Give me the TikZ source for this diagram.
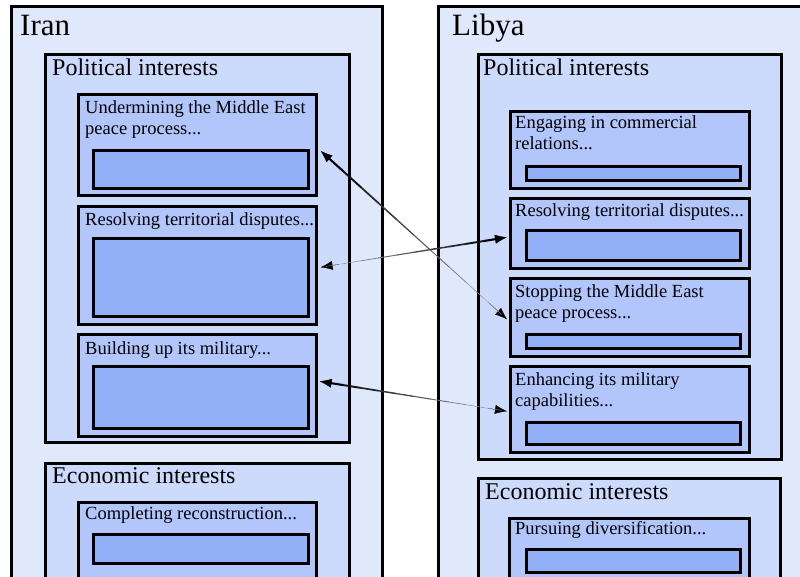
\documentclass[tikz,border=0pt]{standalone}
\usepackage{fontspec}
\setmainfont{Liberation Serif}
\usetikzlibrary{arrows.meta,calc}

\definecolor{paleblue}{RGB}{224,232,252}
\definecolor{lightblue}{RGB}{204,218,252}
\definecolor{midblue}{RGB}{178,198,252}
\definecolor{barblue}{RGB}{146,176,248}

\tikzset{
  box/.style={draw, line width=2.6pt, rectangle, inner sep=0pt, anchor=north west},
  countrybox/.style={box, fill=paleblue},
  groupbox/.style={box, fill=lightblue},
  itembox/.style={box, fill=midblue},
  barbox/.style={box, fill=barblue},
  countrytext/.style={anchor=base west, inner sep=0pt, font=\fontsize{31}{36}\selectfont},
  grouptext/.style={anchor=base west, inner sep=0pt, font=\fontsize{24}{28}\selectfont},
  itemtext/.style={anchor=base west, inner sep=0pt, align=left, font=\fontsize{18.5}{21}\selectfont},
  tip/.style={-{Latex[length=12pt,width=9pt]}, line width=0.3pt}
}

\begin{document}
\begin{tikzpicture}[x=1pt, y=-1pt]
        \clip (0,0) rectangle (800,577);
        \fill[white] (0,0) rectangle (800,577);

        % Iran
        \node[countrybox, minimum width=371pt, minimum height=600pt] (iran) at (10,5) {};
        \node[countrytext] (irant) at (20,36) {Iran};
        \node[groupbox, minimum width=304pt, minimum height=388pt] (ipol) at (44,53) {};
        \node[grouptext] (ipolt) at (52,76) {Political interests};
        \node[itembox, minimum width=238pt, minimum height=101pt] (iu) at (77,93) {};
        \node[barbox, minimum width=215pt, minimum height=38pt] (iub) at (92,149) {};
        \node[itemtext] (iut) at (85,135) {Undermining the Middle East\\peace process...};
        \node[itembox, minimum width=238pt, minimum height=118pt] (ir) at (77,205) {};
        \node[barbox, minimum width=215pt, minimum height=78pt] (irb) at (92,237) {};
        \node[itemtext] (irt) at (85,226) {Resolving territorial disputes...};
        \node[itembox, minimum width=238pt, minimum height=102pt] (ib) at (77,333) {};
        \node[barbox, minimum width=215pt, minimum height=62pt] (ibb) at (92,365) {};
        \node[itemtext] (ibt) at (85,354) {Building up its military...};
        \node[groupbox, minimum width=304pt, minimum height=150pt] (ieco) at (44,462) {};
        \node[grouptext] (iecot) at (52,483) {Economic interests};
        \node[itembox, minimum width=238pt, minimum height=100pt] (ic) at (77,501) {};
        \node[barbox, minimum width=215pt, minimum height=29pt] (icb) at (92,533) {};
        \node[itemtext] (ict) at (85,519) {Completing reconstruction...};

        % Libya
        \node[countrybox, minimum width=400pt, minimum height=600pt] (libya) at (437,5) {};
        \node[countrytext] (libyat) at (452,36) {Libya};
        \node[groupbox, minimum width=303pt, minimum height=405pt] (lpol) at (477,53) {};
        \node[grouptext] (lpolt) at (483,76) {Political interests};
        \node[itembox, minimum width=239pt, minimum height=77pt] (lc) at (509,110) {};
        \node[barbox, minimum width=214pt, minimum height=14pt] (lcb) at (525,165) {};
        \node[itemtext] (lct) at (515,150) {Engaging in commercial\\relations...};
        \node[itembox, minimum width=239pt, minimum height=70pt] (lr) at (509,197) {};
        \node[barbox, minimum width=214pt, minimum height=30pt] (lrb) at (525,229) {};
        \node[itemtext] (lrt) at (515,217) {Resolving territorial disputes...};
        \node[itembox, minimum width=239pt, minimum height=78pt] (ls) at (509,277) {};
        \node[barbox, minimum width=214pt, minimum height=14pt] (lsb) at (525,333) {};
        \node[itemtext] (lst) at (515,318) {Stopping the Middle East\\peace process...};
        \node[itembox, minimum width=239pt, minimum height=86pt] (lm) at (509,365) {};
        \node[barbox, minimum width=214pt, minimum height=22pt] (lmb) at (525,421) {};
        \node[itemtext] (lmt) at (515,406) {Enhancing its military\\capabilities...};
        \node[groupbox, minimum width=302pt, minimum height=150pt] (leco) at (477,477) {};
        \node[grouptext] (lecot) at (485,499) {Economic interests};
        \node[itembox, minimum width=240pt, minimum height=90pt] (lp) at (508,517) {};
        \node[barbox, minimum width=214pt, minimum height=23pt] (lpb) at (525,548) {};
        \node[itemtext] (lpt) at (515,534) {Pursuing diversification...};

        % links, thick end first
        \coordinate (a1) at ([shift={(3,6)}]iu.east);
        \coordinate (b1) at ([shift={(-2,2)}]ls.west);
        \coordinate (a2) at ([shift={(-2,4)}]lr.west);
        \coordinate (b2) at ([shift={(3,2)}]ir.east);
        \coordinate (a3) at ([shift={(2,-4)}]ib.east);
        \coordinate (b3) at ([shift={(-2,2)}]lm.west);

        \foreach \ta/\tb in {a1/b1, a2/b2, a3/b3}{
            \draw[tip] ($(\ta)!0.1!(\tb)$) -- (\ta);
            \draw[tip] ($(\tb)!0.1!(\ta)$) -- (\tb);
            \foreach \i in {0,...,9}{
                \pgfmathsetmacro\w{2.1-0.2*\i}
                \pgfmathsetmacro\k{100-7*\i}
                \draw[line width=\w pt, line cap=round, black!\k] ($(\ta)!{0.03+0.094*\i}!(\tb)$) -- ($(\ta)!{0.03+0.094*(\i+1)}!(\tb)$);
            }
        }
\end{tikzpicture}
\end{document}
